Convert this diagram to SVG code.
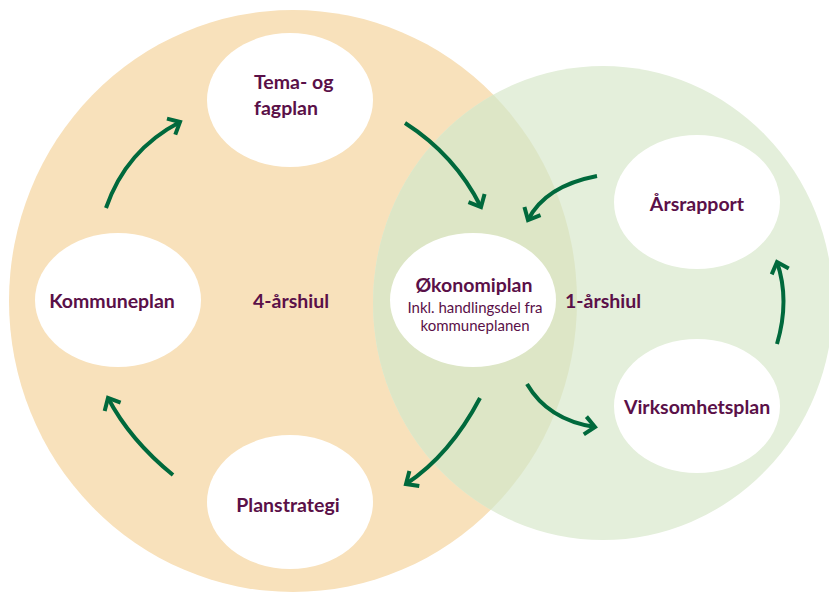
<svg xmlns="http://www.w3.org/2000/svg" width="829" height="592" viewBox="0 0 829 592">
  <style>
    .node { fill: #ffffff; }
    .lbl { font-family: Lato, "Open Sans", "Liberation Sans", sans-serif; font-weight: 700; font-size: 19.5px; fill: #5a1048; }
    .sub { font-family: Lato, "Open Sans", "Liberation Sans", sans-serif; font-weight: 400; font-size: 15px; fill: #5a1048; }
    .arrow { fill: none; stroke: #00693c; stroke-width: 4; marker-end: url(#head); }
  </style>
  <defs>
    <marker id="head" viewBox="-14 -12 16 24" refX="0" refY="0" markerWidth="16" markerHeight="24" markerUnits="userSpaceOnUse" orient="auto" overflow="visible">
      <path d="M-10,-9 L0,0 L-10,9" fill="none" stroke="#00693c" stroke-width="4"/>
    </marker>
    <clipPath id="orangeClip">
      <ellipse cx="293" cy="301" rx="284" ry="291"/>
    </clipPath>
  </defs>

  <!-- background wheels -->
  <g id="wheels">
    <ellipse id="wheel-4yr" cx="293" cy="301" rx="284" ry="291" fill="#f8e1bb"/>
    <ellipse id="wheel-1yr" cx="603" cy="303" rx="230" ry="237" fill="#e4efdb"/>
    <ellipse cx="603" cy="303" rx="230" ry="237" fill="#dde6c6" clip-path="url(#orangeClip)"/>
  </g>

  <!-- connectors -->
  <g id="connectors">
    <path class="arrow" d="M106,208 Q126,150 180,122"/>
    <path class="arrow" d="M405,123 Q455,155 481,207"/>
    <path class="arrow" d="M597,176 Q545,186 528,220"/>
    <path class="arrow" d="M777,344 Q790,300 777,262"/>
    <path class="arrow" d="M527,384 Q548,420 595,427"/>
    <path class="arrow" d="M480,398 Q450,455 406,484"/>
    <path class="arrow" d="M173,475 Q130,440 108,398"/>
  </g>

  <!-- nodes -->
  <g id="tema">
    <ellipse class="node" cx="290" cy="100" rx="83" ry="67"/>
    <text class="lbl" x="254" y="89">Tema- og</text>
    <text class="lbl" x="254" y="115">fagplan</text>
  </g>
  <g id="arsrapport">
    <ellipse class="node" cx="697" cy="202" rx="83" ry="67"/>
    <text class="lbl" x="697" y="211" text-anchor="middle">Årsrapport</text>
  </g>
  <g id="okonomiplan">
    <ellipse class="node" cx="473" cy="300" rx="83" ry="67"/>
    <text class="lbl" x="474" y="292" text-anchor="middle">Økonomiplan</text>
    <text class="sub" x="475" y="313" text-anchor="middle">Inkl. handlingsdel fra</text>
    <text class="sub" x="475" y="331" text-anchor="middle">kommuneplanen</text>
  </g>
  <g id="kommuneplan">
    <ellipse class="node" cx="118" cy="300" rx="83" ry="67"/>
    <text class="lbl" x="112" y="308" text-anchor="middle">Kommuneplan</text>
  </g>
  <g id="planstrategi">
    <ellipse class="node" cx="290" cy="502" rx="83" ry="67"/>
    <text class="lbl" x="288" y="512" text-anchor="middle">Planstrategi</text>
  </g>
  <g id="virksomhetsplan">
    <ellipse class="node" cx="697" cy="406" rx="83" ry="67"/>
    <text class="lbl" x="697" y="414" text-anchor="middle">Virksomhetsplan</text>
  </g>

  <!-- wheel captions -->
  <g id="captions">
    <text class="lbl" x="253" y="308">4-årshiul</text>
    <text class="lbl" x="565" y="308">1-årshiul</text>
  </g>
</svg>
